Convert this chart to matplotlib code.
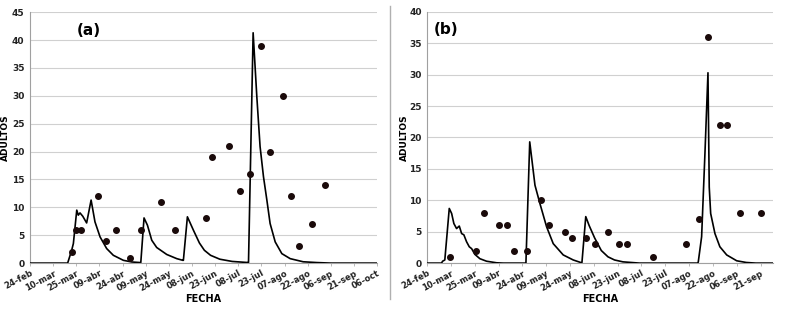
import numpy as np
import matplotlib.pyplot as plt
from matplotlib.lines import Line2D

# x values are days counted from 24-feb (leap year, 15-day tick spacing)
tick_labels_a = ['24-feb', '10-mar', '25-mar', '09-abr', '24-abr', '09-may', '24-may', '08-jun',
                 '23-jun', '08-jul', '23-jul', '07-ago', '22-ago', '06-sep', '21-sep', '06-oct']
tick_labels_b = tick_labels_a[:-1]

# panel (a): observed adults
obs_a_day = [27, 30, 33, 44, 49, 56, 65, 72, 85, 94, 114, 118, 129, 136, 142.7, 150, 155.6, 164, 169, 174, 183, 191]
obs_a_val = [2, 6, 6, 12, 4, 6, 1, 6, 11, 6, 8, 19, 21, 13, 16, 39, 20, 30, 12, 3, 7, 14]

# panel (a): simulated adults
sim_a_day = [0, 24.4, 27, 28.1, 30.3, 31.3, 32.4, 34.2, 36.7, 39.6, 42.1, 45.4, 49.7, 54, 60.5, 66, 71.3,
             71.8, 73.9, 76.1, 78.9, 82.1, 88.6, 95.1, 99,
             99.4, 102, 105.9, 109.8, 113, 117, 123, 131, 141.3,
             141.6, 144.6, 147, 149.1, 151.3, 153.5, 155.6, 158.9, 163.2, 168.6, 177, 185.7, 195, 225]
sim_a_val = [0, 0, 2.3, 3.5, 9.5, 8.6, 9.0, 8.4, 7.2, 11.3, 7.4, 4.7, 2.6, 1.4, 0.5, 0.2, 0.1,
             0.1, 8.1, 6.8, 4.1, 2.8, 1.55, 0.8, 0.5,
             0.5, 8.3, 5.9, 3.6, 2.3, 1.4, 0.7, 0.3, 0.1,
             0.1, 41.3, 29.8, 20.9, 15.5, 11.3, 7.1, 3.8, 1.7, 0.8, 0.24, 0.1, 0, 0]

# panel (b): observed adults
obs_b_day = [14.3, 30.8, 36, 45, 50, 55, 63, 72, 77, 87, 91, 100, 106, 114, 121, 126, 142, 163, 171.2, 177.1,
             184.4, 189.2, 197.2, 210]
obs_b_val = [1, 2, 8, 6, 6, 2, 2, 10, 6, 5, 4, 4, 3, 5, 3, 3, 1, 3, 7, 36, 22, 22, 8, 8]

# panel (b): simulated adults
sim_b_day = [0, 9.0, 9.7, 11.1, 13.9, 15.4, 16.8, 18.5, 20.2, 21.7, 23.1, 24.8, 26.5, 28, 30, 33.2,
             37.4, 43.7, 48, 62.2,
             64.6, 67.9, 71, 75.2, 79.4, 85.7, 92, 96.7,
             97.5, 99.9, 102, 105.5, 107.6, 109.7, 113.9, 118, 123.3, 133.8, 170.5,
             170.8, 172.9, 175, 176.9, 177.7, 178.6, 181.3, 184.4, 188.7, 195, 201, 207, 218]
sim_b_val = [0, 0, 0.3, 0.5, 8.7, 7.9, 6.3, 5.5, 5.9, 4.7, 4.5, 3.4, 2.6, 2.3, 1.4, 0.7,
             0.3, 0.05, 0, 0,
             19.3, 12.4, 9.5, 5.8, 3.1, 1.3, 0.5, 0.1,
             0.1, 7.4, 6, 4, 3, 2, 1, 0.5, 0.2, 0, 0,
             0.2, 4.2, 17.5, 30.3, 12.1, 7.9, 4.7, 2.6, 1.3, 0.37, 0.1, 0, 0]

fig = plt.figure(figsize=(8, 3.11), dpi=100)
ax_a = fig.add_axes([0.0375, 0.154, 0.434, 0.807])
ax_b = fig.add_axes([0.534, 0.154, 0.4325, 0.808])

def style(ax, sim_x, sim_y, obs_x, obs_y, labels, xmax, ymax, tag, ylab_x):
    ax.plot(sim_x, sim_y, color='black', lw=1.2, zorder=3)
    ax.scatter(obs_x, obs_y, s=16, color='#1a0a0a', zorder=4)
    ax.set_xlim(0, xmax)
    ax.set_ylim(0, ymax)
    ax.set_xticks(np.arange(len(labels)) * 15)
    ax.set_xticklabels(labels, rotation=28, ha='right', rotation_mode='anchor',
                       fontsize=6, fontweight='bold', color='#222222')
    ax.set_yticks(np.arange(0, ymax + 1, 5))
    ax.tick_params(axis='y', labelsize=6.5, length=0, pad=4)
    ax.tick_params(axis='x', length=2, width=0.6, color='#b0b0b0', pad=2)
    for t in ax.get_yticklabels():
        t.set_fontweight('bold')
        t.set_color('#222222')
    ax.grid(axis='y', color='#d0d0d0', lw=0.8)
    ax.set_axisbelow(True)
    for s in ['top', 'right']:
        ax.spines[s].set_visible(False)
    for s in ['left', 'bottom']:
        ax.spines[s].set_color('#a0a0a0')
        ax.spines[s].set_linewidth(0.8)
    ax.set_xlabel('FECHA', fontsize=7, fontweight='bold', labelpad=1)
    ax.set_ylabel('ADULTOS', fontsize=6.5, fontweight='bold')
    ax.yaxis.set_label_coords(ylab_x, 0.5)
    ax.text(tag[0], tag[1], tag[2], transform=ax.transAxes, fontsize=11, fontweight='bold')

style(ax_a, sim_a_day, sim_a_val, obs_a_day, obs_a_val, tick_labels_a, 225, 45,
      (0.135, 0.91, '(a)'), -0.057)
style(ax_b, sim_b_day, sim_b_val, obs_b_day, obs_b_val, tick_labels_b, 218, 40,
      (0.02, 0.91, '(b)'), -0.052)

# separator line between the two panels
fig.add_artist(Line2D([390 / 800, 390 / 800], [0.04, 0.98], color='#b0b0b0', lw=1))

plt.savefig('out.png', dpi=100)
